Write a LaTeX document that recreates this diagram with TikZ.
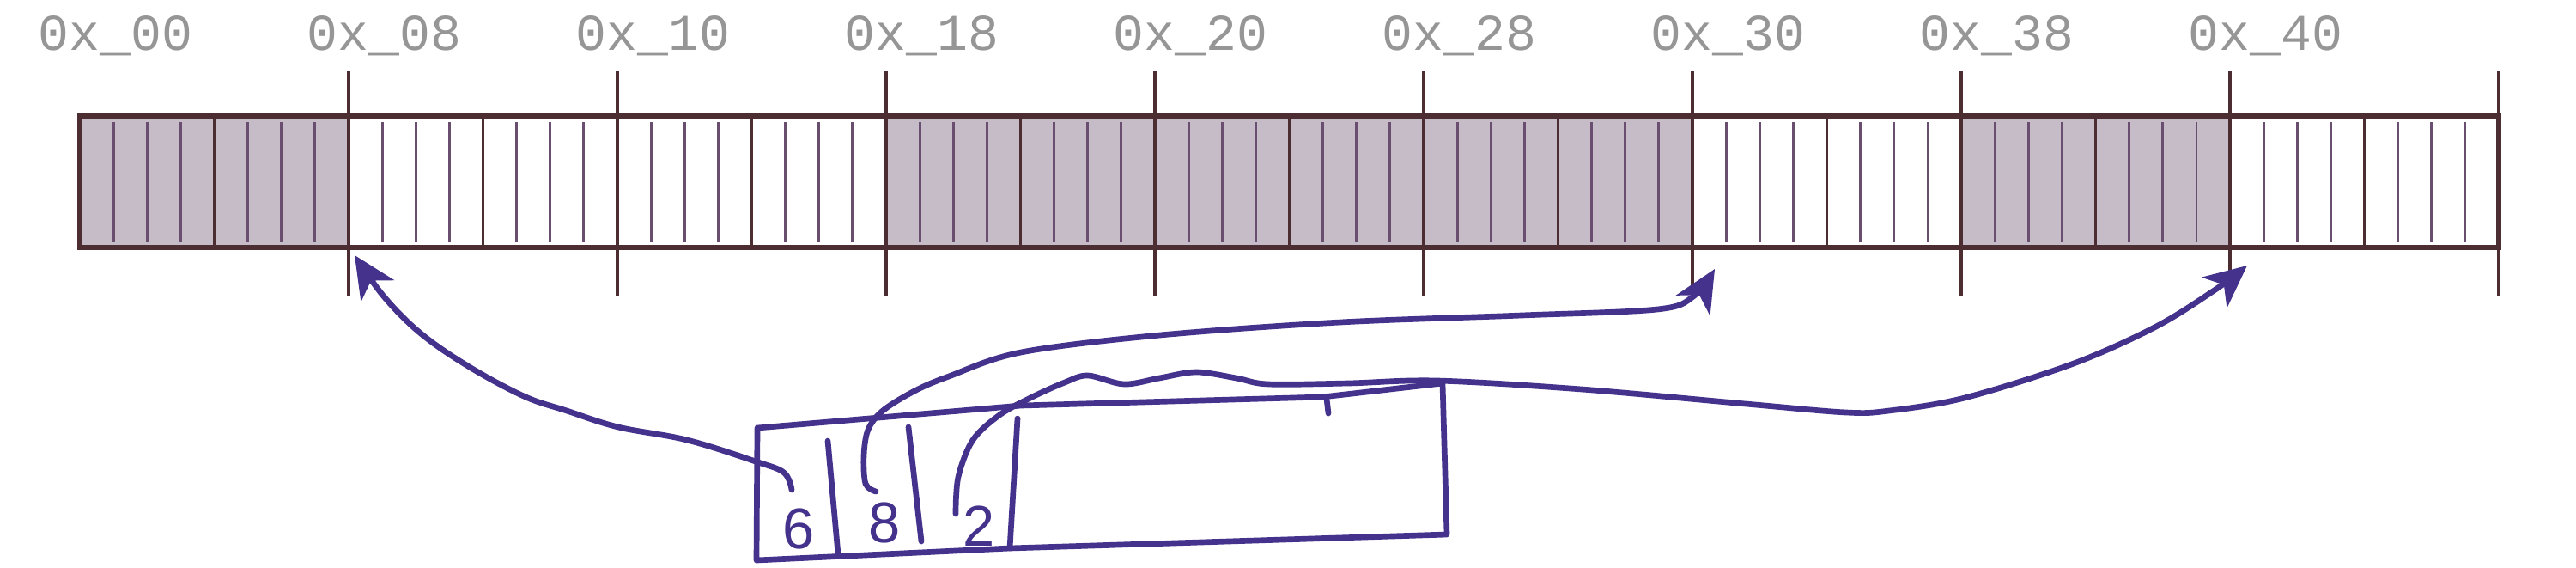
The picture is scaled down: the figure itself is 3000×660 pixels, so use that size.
\documentclass[tikz,border=0pt]{standalone}
\usepackage{fontspec}
\newfontfamily\labfont{Liberation Mono}
\newfontfamily\handfont{Liberation Sans}
\usetikzlibrary{arrows.meta}
\definecolor{barline}{RGB}{75,45,50}
\definecolor{minorline}{RGB}{105,78,112}
\definecolor{shadefill}{RGB}{198,188,200}
\definecolor{pen}{RGB}{68,50,140}
\definecolor{labgray}{RGB}{150,150,150}
\tikzset{
  outline/.style={draw=barline, line width=1.5pt},
  tickline/.style={draw=barline, line width=1.1pt},
  midline/.style={draw=barline, line width=1.1pt},
  minorline/.style={draw=minorline, line width=0.8pt},
  lab/.style={inner sep=0pt, text=labgray, font=\labfont\fontsize{17}{17}\selectfont},
  pen/.style={draw=pen, line width=1.9pt, line cap=round, line join=round},
  penarrow/.style={pen, -{Stealth[length=14pt,width=13pt,inset=4pt]}},
  digit/.style={inner sep=0pt, text=pen, font=\handfont\fontsize{19}{19}\selectfont}
}
\begin{document}
\begin{tikzpicture}[x=0.01cm, y=-0.01cm]
\useasboundingbox (0,0) rectangle (3000,660);
% shaded blocks
\foreach \k in {0,3,4,5,7} {
  \fill[shadefill] ({93+313*\k},135) rectangle ({93+313*(\k+1)},288);
}
% cell lines
\foreach \k in {0,...,8} {
  \foreach \i in {1,2,3,5,6,7} {
    \draw[minorline] ({93+313*\k+39.125*\i},142) -- ({93+313*\k+39.125*\i},282);
  }
  \draw[midline] ({93+313*\k+156.5},135) -- ({93+313*\k+156.5},288);
}
% outline
\draw[outline] (93,135) rectangle (2910,288);
% ticks
\foreach \k in {1,...,9} {
  \draw[tickline] ({93+313*\k},83) -- ({93+313*\k},345);
}
% labels
\foreach \k/\t in {0/00,1/08,2/10,3/18,4/20,5/28,6/30,7/38,8/40} {
  \node[lab, anchor=base west] (L\k) at ({93+313*\k-49},58) {0x\_\t};
}
% targets of the arrows
\coordinate (t08) at (413,297);
\coordinate (t30) at (1997,313);
\coordinate (t40) at (2617,309);
% hand drawn box
\coordinate (bTL) at (882,498);
\coordinate (bTR) at (1680,446);
\coordinate (bBR) at (1685,622);
\coordinate (bBL) at (881,652);
\draw[pen] (bTL) -- (1189,472) -- (1540,462) -- (bTR) -- (bBR) -- (1176,638) -- (bBL) -- cycle;
\draw[pen] (1545,464) -- (1547,481);
\draw[pen] (964,513) -- (976,645);
\draw[pen] (1058,497) -- (1073,630);
\draw[pen] (1185,487) -- (1176,638);
% digits
\node[digit] (c1) at (930,615) {6};
\node[digit] (c2) at (1030,608) {8};
\node[digit] (c3) at (1140,612) {2};
% hooks (start of connectors)
\coordinate (h1) at (922,570);
\coordinate (h2) at (1020,572);
\coordinate (h3) at (1113,598);
% connectors
\draw[penarrow] plot[smooth, tension=0.6] coordinates {(h1) (913,550) (880,537) (800,512) (720,497) (660,478) (610,461) (545,426) (490,388) (447,345) (t08)};
\draw[penarrow] plot[smooth, tension=0.55] coordinates {(h2) (1008,563) (1006,530) (1011,500) (1028,478) (1065,455) (1105,438) (1189,410) (1351,390) (1561,375) (1772,367) (1930,360) (1972,345) (t30)};
\draw[penarrow] plot[smooth, tension=0.55] coordinates {(h3) (1116,555) (1133,512) (1164,483) (1200,463) (1240,445) (1267,437) (1309,447) (1350,440) (1393,433) (1440,440) (1477,447) (1570,446) (1674,443) (1842,453) (2033,470) (2150,480) (2200,478) (2288,463) (2415,423) (2511,380) (2580,337) (t40)};
\end{tikzpicture}
\end{document}
